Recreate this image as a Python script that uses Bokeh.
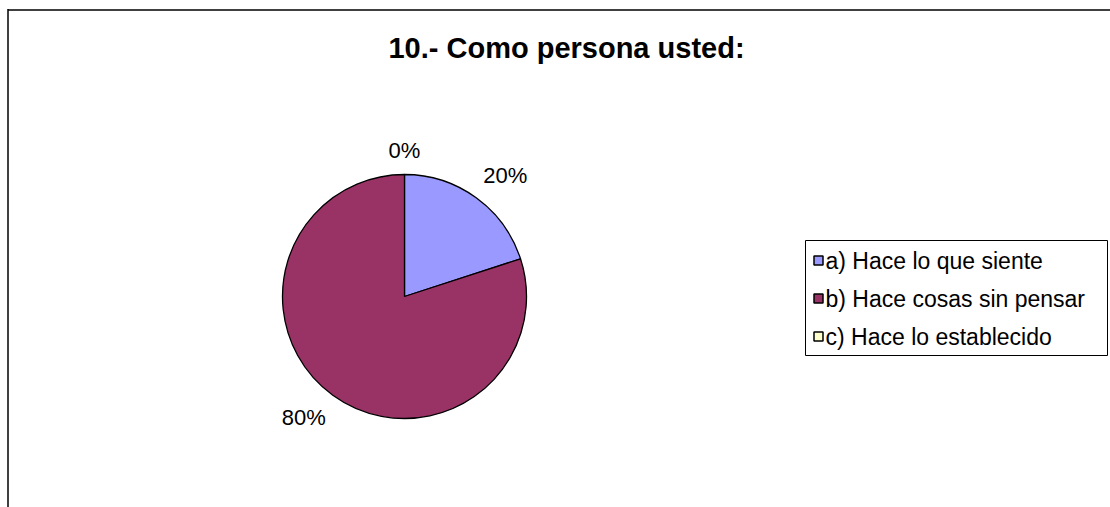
import numpy as np
from bokeh.plotting import figure
from bokeh.models import Range1d, Label, ColumnDataSource
from bokeh.core.properties import value
from bokeh.embed import file_html
from bokeh.resources import INLINE

# ---- data ----
categories = ["a) Hace lo que siente", "b) Hace cosas sin pensar", "c) Hace lo establecido"]
values = [20, 80, 0]
colors = ["#9999FF", "#993366", "#FFFFCC"]
title_text = "10.- Como persona usted:"

FONT = "Liberation Sans"
W, H = 1110, 507

p = figure(width=W, height=H, x_range=Range1d(0, W), y_range=Range1d(0, H),
           output_backend="svg", toolbar_location=None, min_border=0)
p.axis.visible = False
p.grid.visible = False
p.outline_line_color = None
p.background_fill_color = "white"
p.border_fill_color = "white"

# chart-area border (cropped on right/bottom as in reference)
fx, fy = 7.5, H - 9.5
p.segment(x0=[fx], y0=[fy], x1=[W + 5], y1=[fy], line_color="#404040", line_width=2)
p.segment(x0=[fx], y0=[fy + 1], x1=[fx], y1=[-5], line_color="black", line_width=1.5)

# title
p.add_layout(Label(x=566, y=460, text=title_text, text_font=FONT, text_font_size="29px",
                   text_font_style="bold", text_align="center", text_baseline="middle",
                   text_color="black"))

# ---- pie ----
cx, cy, R = 404, 211, 122
vals = np.array(values, dtype=float)
frac = vals / vals.sum()
cum = np.concatenate([[0.0], np.cumsum(frac)])
start = np.pi / 2 - cum[:-1] * 2 * np.pi
end = np.pi / 2 - cum[1:] * 2 * np.pi

mask = vals > 0
src = ColumnDataSource(dict(start=start[mask], end=end[mask],
                            color=[c for c, m in zip(colors, mask) if m]))
p.wedge(x=cx, y=cy, radius=R, start_angle="start", end_angle="end", direction="clock",
        fill_color="color", line_color="black", line_width=1.3, source=src)

# percentage labels
mid = (start + end) / 2
gap = R + 12
lx = cx + gap * np.cos(mid)
ly = cy + gap * np.sin(mid)
aligns = ["left" if c > 0.2 else ("right" if c < -0.2 else "center") for c in np.cos(mid)]
bases = ["bottom" if s > 0 else "top" for s in np.sin(mid)]
labels = [f"{round(f * 100)}%" for f in frac]
for x, y, t, a, b in zip(lx, ly, labels, aligns, bases):
    p.add_layout(Label(x=x, y=y, text=t, text_font=FONT, text_font_size="22px",
                       text_align=a, text_baseline=b, text_color="black"))

# ---- legend ----
p.quad(left=805, right=1107, top=267, bottom=152, fill_color="white",
       line_color="black", line_width=1)
ly0, step = 247, 38
ys = [ly0 - i * step for i in range(len(categories))]
p.rect(x=818, y=ys, width=9, height=9, fill_color=colors, line_color="black", line_width=1.5)
p.text(x=825, y=ys, text=categories, text_font=value(FONT), text_font_size="23px",
       text_baseline="middle", text_color="black")

open("out.html", "w").write(file_html(p, INLINE))
